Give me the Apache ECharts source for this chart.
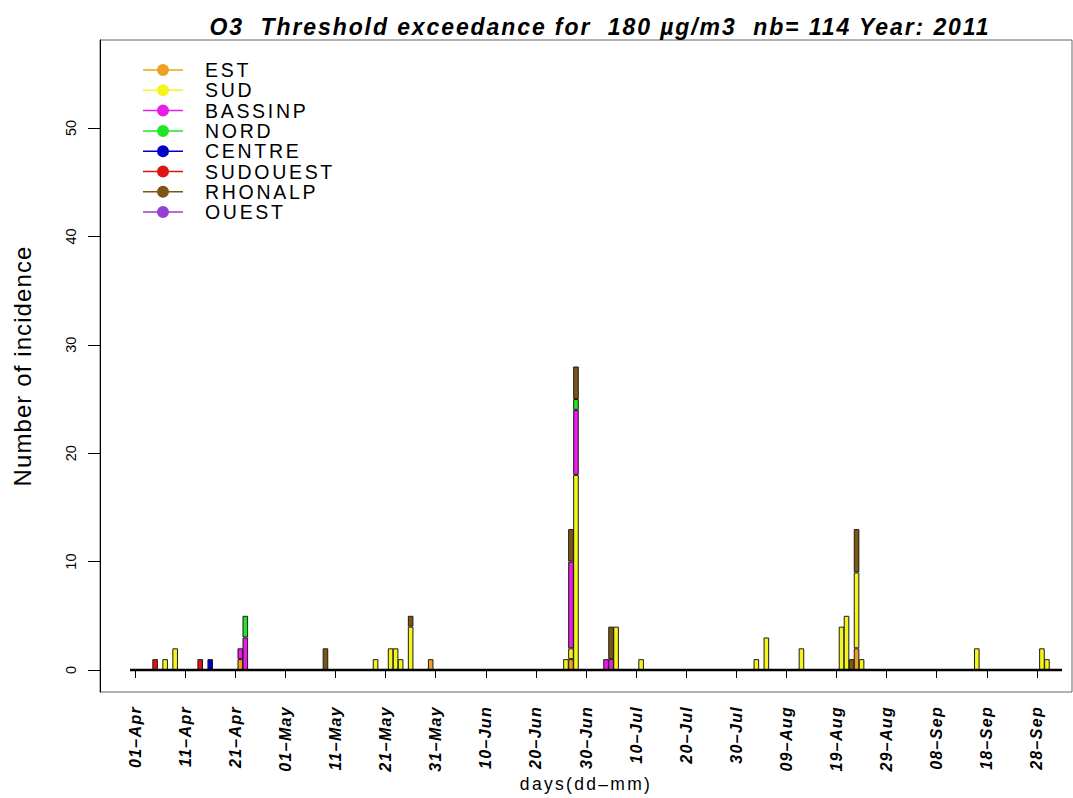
<!DOCTYPE html>
<html>
<head>
<meta charset="utf-8">
<script src="https://cdn.jsdelivr.net/npm/echarts@6/dist/echarts.min.js"></script>
<style>
  html, body { margin: 0; padding: 0; background: #ffffff; }
  #chart { width: 1073px; height: 798px; }
  /* wider tracking for the title, legend and axis texts (picked out by their font sizes) */
  #chart text[style*="23px"] { letter-spacing: 1.9px; }
  #chart text[style*="19.5px"] { letter-spacing: 2.7px; }
  #chart text[style*="16px"] { letter-spacing: 1.3px; }
  #chart text[style*="24px"] { letter-spacing: 1.1px; }
  #chart text[style*="17.5px"] { letter-spacing: 2.3px; }
</style>
</head>
<body>
<div id="chart"></div>
<script>
// Daily counts of O3 exceedances above 180 µg/m3, per region, April to September 2011

const regions = ['EST', 'SUD', 'BASSINP', 'NORD', 'CENTRE', 'SUDOUEST', 'RHONALP', 'OUEST'];
const regionColors = ['#f0a020', '#f5f51e', '#e81ee8', '#22e622', '#0000c8', '#dc1414', '#7d5514', '#9440d0'];

// [day, number of exceedances]
const EST = [['22-Apr', 1], ['30-May', 1], ['27-Jun', 1], ['23-Aug', 2]];
const SUD = [
  ['07-Apr', 1], ['09-Apr', 2],
  ['19-May', 1], ['22-May', 2], ['23-May', 2], ['24-May', 1], ['26-May', 4],
  ['26-Jun', 1], ['27-Jun', 1], ['28-Jun', 18],
  ['06-Jul', 4], ['11-Jul', 1],
  ['03-Aug', 1], ['05-Aug', 3], ['12-Aug', 2], ['20-Aug', 4], ['21-Aug', 5], ['23-Aug', 7], ['24-Aug', 1],
  ['16-Sep', 2], ['29-Sep', 2], ['30-Sep', 1]
];
const BASSINP = [['22-Apr', 1], ['23-Apr', 3], ['27-Jun', 8], ['28-Jun', 6], ['04-Jul', 1], ['05-Jul', 1]];
const NORD = [['23-Apr', 2], ['28-Jun', 1]];
const CENTRE = [['16-Apr', 1]];
const SUDOUEST = [['05-Apr', 1], ['14-Apr', 1]];
const RHONALP = [['09-May', 2], ['26-May', 1], ['27-Jun', 3], ['28-Jun', 3], ['05-Jul', 3], ['22-Aug', 1], ['23-Aug', 4]];
const OUEST = [];

const regionData = [EST, SUD, BASSINP, NORD, CENTRE, SUDOUEST, RHONALP, OUEST];

// labelled days on the time axis
const tickLabels = ['01-Apr', '11-Apr', '21-Apr', '01-May', '11-May', '21-May', '31-May',
  '10-Jun', '20-Jun', '30-Jun', '10-Jul', '20-Jul', '30-Jul', '09-Aug', '19-Aug', '29-Aug',
  '08-Sep', '18-Sep', '28-Sep'];
const yTicks = [0, 10, 20, 30, 40, 50];

const threshold = 180;
const year = 2011;

// day axis: 25 March to 5 October
const monthNames = ['Jan', 'Feb', 'Mar', 'Apr', 'May', 'Jun', 'Jul', 'Aug', 'Sep', 'Oct', 'Nov', 'Dec'];
const days = [];
for (let i = 0; i < 195; i++) {
  const d = new Date(Date.UTC(year, 2, 25 + i));
  days.push(String(d.getUTCDate()).padStart(2, '0') + '-' + monthNames[d.getUTCMonth()]);
}
const firstLine = days.indexOf('31-Mar');
const lastLine = days.indexOf('03-Oct');

let total = 0;
regionData.forEach(list => list.forEach(p => { total += p[1]; }));

const font = 'Liberation Sans';

const barSeries = regions.map((name, k) => {
  const lookup = {};
  regionData[k].forEach(p => { lookup[p[0]] = p[1]; });
  return {
    name: name,
    type: 'bar',
    stack: 'all',
    barWidth: 5.6,
    itemStyle: { color: regionColors[k], borderColor: '#1c1c1c', borderWidth: 1 },
    data: days.map(d => (lookup[d] ? lookup[d] : null)),
    z: 2
  };
});

const baseline = {
  name: 'base',
  type: 'line',
  symbol: 'none',
  silent: true,
  lineStyle: { color: '#000', width: 2.5 },
  data: days.map((d, i) => (i >= firstLine && i <= lastLine ? 0 : null)),
  z: 4
};

const chart = echarts.init(document.getElementById('chart'), null, { renderer: 'svg' });
chart.setOption({
  animation: false,
  backgroundColor: '#ffffff',
  title: {
    text: 'O3  Threshold exceedance for  ' + threshold + ' µg/m3  nb= ' + total + ' Year: ' + year,
    left: 595,
    top: 10,
    textAlign: 'center',
    textStyle: { fontFamily: font, fontSize: 23, fontWeight: 'bold', fontStyle: 'italic', color: '#000' }
  },
  legend: {
    data: regions,
    orient: 'vertical',
    left: 143,
    top: 60,
    itemWidth: 40,
    itemHeight: 12,
    itemGap: 0.3,
    padding: 0,
    icon: 'path://M0,5.25L40,5.25L40,6.75L0,6.75Z M26,6A6,6,0,1,1,14,6A6,6,0,1,1,26,6Z',
    itemStyle: { borderWidth: 0, borderColor: 'transparent' },
    textStyle: { fontFamily: font, fontSize: 19.5, color: '#000', padding: [0, 0, 0, 17] }
  },
  grid: {
    left: 100, top: 40, width: 972, height: 652,
    outerBoundsMode: 'none',
    containLabel: false,
    show: true, borderColor: '#666', borderWidth: 1
  },
  xAxis: {
    type: 'category',
    data: days,
    boundaryGap: false,
    name: 'days(dd–mm)',
    nameLocation: 'middle',
    nameGap: 83,
    nameTextStyle: { fontFamily: font, fontSize: 17.5, color: '#000' },
    axisLine: { show: false },
    axisTick: {
      show: true, length: 8, inside: false,
      interval: (i, v) => tickLabels.indexOf(v) >= 0,
      lineStyle: { color: '#000', width: 1 }
    },
    axisLabel: {
      interval: (i, v) => tickLabels.indexOf(v) >= 0,
      rotate: 90,
      margin: 14,
      fontFamily: font, fontSize: 16, fontWeight: 'bold', fontStyle: 'italic', color: '#000',
      formatter: v => v.replace('-', '–')
    },
    splitLine: { show: false }
  },
  yAxis: {
    type: 'value',
    min: -2.03,
    max: 58.12,
    name: 'Number of incidence',
    nameLocation: 'middle',
    nameRotate: 90,
    nameGap: 66,
    nameTextStyle: { fontFamily: font, fontSize: 24, color: '#000' },
    axisLine: { show: true, lineStyle: { color: '#000', width: 1 } },
    axisTick: { show: true, length: 12, customValues: yTicks, lineStyle: { color: '#000' } },
    axisLabel: {
      customValues: yTicks,
      rotate: 90,
      margin: 22,
      fontFamily: font, fontSize: 14.5, color: '#000'
    },
    splitLine: { show: false }
  },
  series: barSeries.concat([baseline])
});
</script>
</body>
</html>
